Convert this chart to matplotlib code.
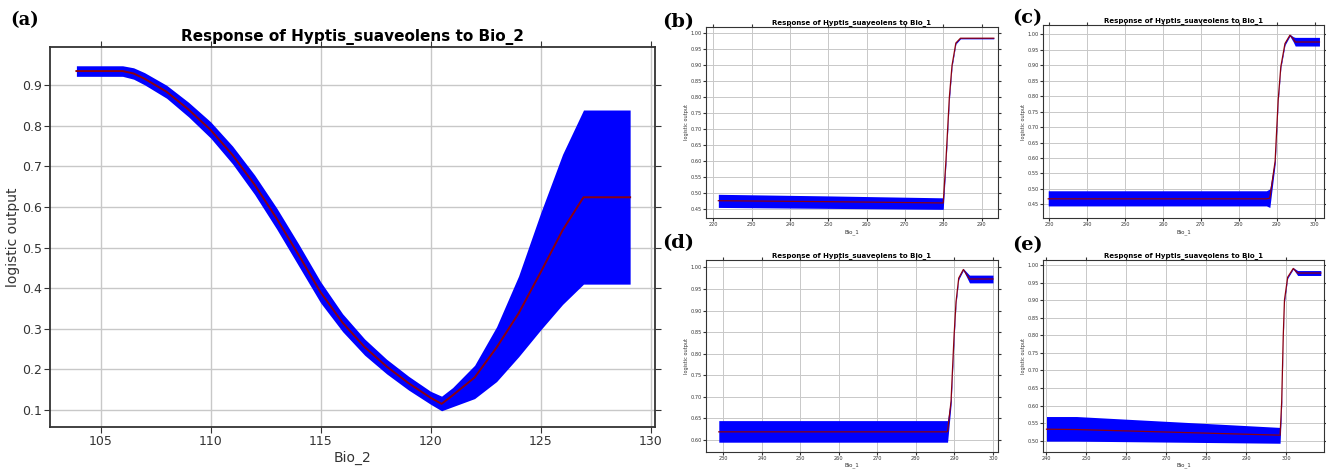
import matplotlib
matplotlib.use("Agg")
import matplotlib.pyplot as plt
from matplotlib.ticker import MultipleLocator, FormatStrFormatter

W, H = 1326, 471

# (a) response to Bio_2
a_x = [103.9, 106.0, 106.5, 107.0, 108.0, 109.0, 110.0, 111.0, 112.0, 113.0, 114.0, 115.0, 116.0,
       117.0, 118.0, 119.0, 120.0, 120.5, 121.0, 122.0, 123.0, 124.0, 125.0, 126.0, 126.95, 129.07]
a_mean = [0.935, 0.935, 0.929, 0.916, 0.884, 0.84, 0.79, 0.728, 0.655, 0.572, 0.482, 0.39, 0.315,
          0.255, 0.207, 0.166, 0.13, 0.115, 0.136, 0.18, 0.254, 0.338, 0.439, 0.543, 0.624, 0.624]
a_upper = [0.948, 0.948, 0.943, 0.931, 0.900, 0.858, 0.810, 0.750, 0.679, 0.598, 0.509, 0.416, 0.337,
           0.275, 0.225, 0.183, 0.146, 0.134, 0.155, 0.21, 0.305, 0.43, 0.585, 0.73, 0.839, 0.839]
a_lower = [0.922, 0.922, 0.915, 0.901, 0.868, 0.822, 0.770, 0.706, 0.631, 0.546, 0.455, 0.364, 0.293,
           0.235, 0.189, 0.149, 0.114, 0.098, 0.108, 0.128, 0.17, 0.231, 0.297, 0.36, 0.41, 0.41]

# (b) response to Bio_1
b_x = [221.3, 250.0, 280.0, 280.7, 281.6, 282.3, 283.3, 284.5, 293.2]
b_mean = [0.477, 0.474, 0.47, 0.6, 0.8, 0.9, 0.97, 0.985, 0.985]
b_upper = [0.497, 0.492, 0.486, 0.61, 0.81, 0.905, 0.973, 0.987, 0.987]
b_lower = [0.456, 0.453, 0.45, 0.59, 0.79, 0.895, 0.967, 0.983, 0.983]

# (c)
c_x = [229.7, 287.3, 288.2, 289.6, 290.4, 291.1, 292.2, 293.5, 294.4, 294.9, 301.3]
c_mean = [0.468, 0.468, 0.47, 0.59, 0.787, 0.895, 0.97, 0.997, 0.985, 0.975, 0.975]
c_upper = [0.494, 0.494, 0.50, 0.60, 0.795, 0.9, 0.975, 1.0, 0.992, 0.99, 0.99]
c_lower = [0.445, 0.445, 0.44, 0.58, 0.78, 0.89, 0.965, 0.994, 0.975, 0.962, 0.962]

# (d)
d_x = [228.8, 288.0, 288.2, 289.1, 289.9, 290.4, 291.1, 292.3, 293.9, 300.0]
d_mean = [0.619, 0.619, 0.62, 0.689, 0.843, 0.92, 0.975, 0.995, 0.973, 0.973]
d_upper = [0.645, 0.645, 0.645, 0.70, 0.85, 0.925, 0.978, 0.997, 0.982, 0.982]
d_lower = [0.595, 0.595, 0.595, 0.68, 0.835, 0.915, 0.972, 0.993, 0.964, 0.964]

# (e)
e_x = [240.0, 247.5, 298.5, 298.9, 299.3, 299.6, 300.4, 301.8, 302.9, 308.7]
e_mean = [0.533, 0.532, 0.516, 0.61, 0.80, 0.90, 0.965, 0.99, 0.977, 0.977]
e_upper = [0.569, 0.569, 0.538, 0.62, 0.805, 0.905, 0.968, 0.992, 0.984, 0.984]
e_lower = [0.499, 0.499, 0.493, 0.60, 0.795, 0.895, 0.962, 0.988, 0.970, 0.970]

title_b1 = "Response of Hyptis_suaveolens to Bio_1"


def rect(l, t, r, b):
    return [l / W, 1 - b / H, (r - l) / W, (b - t) / H]


def style(ax, small):
    ax.grid(True, color="#c8c8c8", lw=1.0 if not small else 0.7)
    ax.set_axisbelow(True)
    for s in ax.spines.values():
        s.set_color("#333333")
        s.set_linewidth(1.3 if not small else 0.8)
    ax.tick_params(direction="out", length=4 if not small else 2, width=0.8,
                   colors="#333333", labelcolor="#333333",
                   labelsize=9 if not small else 3.6,
                   right=True, top=True, pad=2 if not small else 1)


fig = plt.figure(figsize=(W / 100, H / 100), dpi=100, facecolor="white")

# main panel
ax = fig.add_axes(rect(50, 46.7, 655, 427))
ax.fill_between(a_x, a_lower, a_upper, color="#0000ff", lw=0)
ax.plot(a_x, a_mean, color="#8b0010", lw=1.4)
ax.set_xlim(102.7, 130.2)
ax.set_ylim(0.058, 0.995)
ax.xaxis.set_major_locator(MultipleLocator(5))
ax.yaxis.set_major_locator(MultipleLocator(0.1))
ax.yaxis.set_major_formatter(FormatStrFormatter("%.1f"))
style(ax, False)
ax.set_title("Response of Hyptis_suaveolens to Bio_2", fontsize=11, fontweight="bold", pad=4)
ax.set_xlabel("Bio_2", fontsize=10, color="#333333", labelpad=2)
ax.set_ylabel("logistic output", fontsize=10, color="#333333", labelpad=1)
fig.text(10 / W, 1 - 20 / H, "(a)", fontsize=13, fontweight="bold", family="DejaVu Serif",
         va="center", ha="left")

small = [
    ("(b)", (705.7, 26.7, 998, 218.3), b_x, b_mean, b_upper, b_lower, (218.0, 294.3), (0.422, 1.021), (662, 22)),
    ("(c)", (1043.3, 25, 1324, 218.3), c_x, c_mean, c_upper, c_lower, (228.4, 302.5), (0.405, 1.03), (1012, 18)),
    ("(d)", (705.7, 260, 998, 451.7), d_x, d_mean, d_upper, d_lower, (225.4, 301.3), (0.573, 1.017), (662, 243)),
    ("(e)", (1043.3, 260, 1324, 451.7), e_x, e_mean, e_upper, e_lower, (239.2, 309.5), (0.469, 1.014), (1012, 245)),
]

for lab, r, xs, ms, us, ls, xl, yl, pos in small:
    axs = fig.add_axes(rect(*r))
    axs.fill_between(xs, ls, us, color="#0000ff", lw=0)
    axs.plot(xs, ms, color="#8b0010", lw=0.9)
    axs.set_xlim(*xl)
    axs.set_ylim(*yl)
    axs.xaxis.set_major_locator(MultipleLocator(10))
    axs.yaxis.set_major_locator(MultipleLocator(0.05))
    axs.yaxis.set_major_formatter(FormatStrFormatter("%.2f"))
    style(axs, True)
    axs.set_title(title_b1, fontsize=5, fontweight="bold", pad=2)
    axs.set_xlabel("Bio_1", fontsize=4, color="#333333", labelpad=1)
    axs.set_ylabel("logistic output", fontsize=3.6, color="#333333", labelpad=1)
    fig.text(pos[0] / W, 1 - pos[1] / H, lab, fontsize=14, fontweight="bold",
             family="DejaVu Serif", va="center", ha="left")

fig.savefig("out.png", dpi=100, facecolor="white")
